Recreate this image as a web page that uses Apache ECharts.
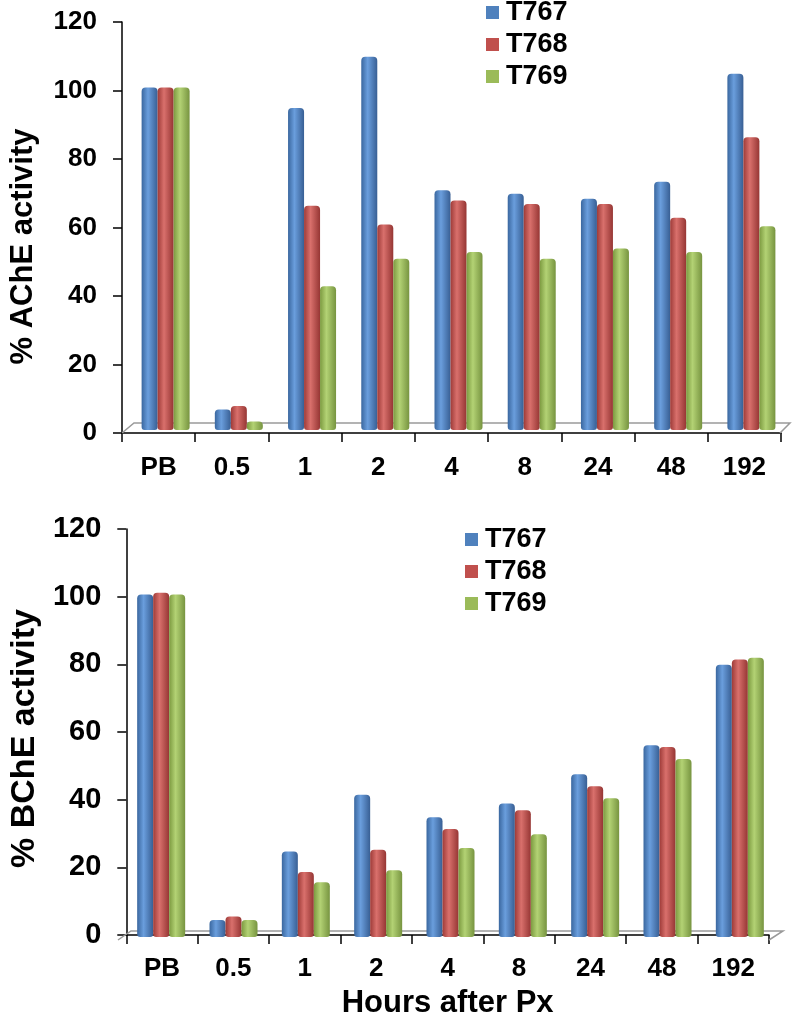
<!DOCTYPE html>
<html>
<head>
<meta charset="utf-8">
<script src="https://cdn.jsdelivr.net/npm/echarts@6/dist/echarts.min.js"></script>
<style>
html,body{margin:0;padding:0;background:#fff;}
#chart{width:796px;height:1020px;}
</style>
</head>
<body>
<div id="chart"></div>
<script>
var categories = ['PB', '0.5', '1', '2', '4', '8', '24', '48', '192'];
var seriesNames = ['T767', 'T768', 'T769'];
var acheT767 = [100, 6, 94, 109, 70, 69, 67.5, 72.5, 104];
var acheT768 = [100, 7, 65.5, 60, 67, 66, 66, 62, 85.5];
var acheT769 = [100, 2.5, 42, 50, 52, 50, 53, 52, 59.5];
var bcheT767 = [100, 5, 25, 41.5, 35, 39, 47.5, 56, 79.5];
var bcheT768 = [100.5, 6, 19, 25.5, 31.5, 37, 44, 55.5, 81];
var bcheT769 = [100, 5, 16, 19.5, 26, 30, 40.5, 52, 81.5];
var yMin = 0, yMax = 120, yStep = 20;
var yTitleTop = '% AChE activity';
var yTitleBottom = '% BChE activity';
var xTitle = 'Hours after Px';

var FONT = "'Liberation Sans', Arial, sans-serif";
var baseColors = ['#4F81BD', '#C0504D', '#9BBB59'];
var grads = [
  ['#3a679f', '#6a9edd', '#385f94'],
  ['#9e3b38', '#d9706c', '#963634'],
  ['#7c9a40', '#b3d274', '#779440']
];
function cyl(i) {
  return new echarts.graphic.LinearGradient(0, 0, 1, 0, [
    {offset: 0, color: grads[i][0]},
    {offset: 0.4, color: grads[i][1]},
    {offset: 1, color: grads[i][2]}
  ]);
}

function axisPair(gridIdx, visible, labelSize, nameText, nameSize, nameGap, namePad, labelMargin, xName) {
  var x = {
    type: 'category', gridIndex: gridIdx, data: categories,
    boundaryGap: true,
    axisLine: {show: visible, lineStyle: {color: '#000', width: 1.5}},
    axisTick: {show: visible, length: 9, lineStyle: {color: '#000', width: 1.5}},
    axisLabel: {show: visible, color: '#000', fontFamily: FONT, fontWeight: 'bold', fontSize: 26, margin: labelMargin},
    splitLine: {show: false}
  };
  if (visible && xName) {
    x.name = xName; x.nameLocation = 'middle'; x.nameGap = 53;
    x.nameTextStyle = {color: '#000', fontFamily: FONT, fontWeight: 'bold', fontSize: 31};
  }
  var y = {
    type: 'value', gridIndex: gridIdx, min: yMin, max: yMax, interval: yStep,
    axisLine: {show: visible, lineStyle: {color: '#000', width: 1.5}},
    axisTick: {show: visible, length: 9, lineStyle: {color: '#000', width: 1.5}},
    axisLabel: {show: visible, color: '#000', fontFamily: FONT, fontWeight: 'bold', fontSize: labelSize, margin: 25},
    splitLine: {show: false}
  };
  if (visible) {
    y.name = nameText; y.nameLocation = 'middle'; y.nameGap = nameGap; y.nameRotate = 90;
    y.nameTextStyle = {color: '#000', fontFamily: FONT, fontWeight: 'bold', fontSize: nameSize, padding: namePad};
  }
  return [x, y];
}

var a0 = axisPair(0, true, 26, yTitleTop, 31, 83, [0, 38, 0, 0], 22, null);
var a1 = axisPair(1, false);
var a2 = axisPair(2, true, 29, yTitleBottom, 34, 78, [0, 13, 0, 0], 21, xTitle);
var a3 = axisPair(3, false);

function barSeries(name, data, idx, axisIdx) {
  return {
    name: name, type: 'bar', xAxisIndex: axisIdx, yAxisIndex: axisIdx,
    data: data, barWidth: 16, barGap: '0%', z: 3,
    itemStyle: {color: cyl(idx), borderRadius: [4, 4, 3, 3]}
  };
}

function legendData() {
  return seriesNames.map(function (n, i) {
    return {name: n, itemStyle: {color: baseColors[i]}};
  });
}

var option = {
  backgroundColor: '#fff',
  animation: false,
  grid: [
    {left: 122, top: 22, width: 659, height: 411},
    {left: 129, top: 19, width: 659, height: 411},
    {left: 118, top: 529, width: 651, height: 411},
    {left: 125, top: 526, width: 651, height: 411}
  ],
  legend: [
    {left: 481, top: -6, orient: 'vertical', icon: 'rect', itemWidth: 13, itemHeight: 13, itemGap: 5,
     textStyle: {color: '#000', fontFamily: FONT, fontWeight: 'bold', fontSize: 27, lineHeight: 26, padding: [0, 0, 0, 2]},
     data: legendData()},
    {left: 460, top: 521, orient: 'vertical', icon: 'rect', itemWidth: 13, itemHeight: 13, itemGap: 5,
     textStyle: {color: '#000', fontFamily: FONT, fontWeight: 'bold', fontSize: 27, lineHeight: 26, padding: [0, 0, 0, 2]},
     data: legendData()}
  ],
  xAxis: [a0[0], a1[0], a2[0], a3[0]],
  yAxis: [a0[1], a1[1], a2[1], a3[1]],
  graphic: [
    {type: 'polyline', z: 1, silent: true,
     shape: {points: [[122, 433], [134, 423], [790, 423], [780, 433]]},
     style: {stroke: '#9a9a9a', lineWidth: 1.5, fill: null}},
    {type: 'polyline', z: 1, silent: true,
     shape: {points: [[118, 940], [131, 931], [783, 931], [769, 940]]},
     style: {stroke: '#9a9a9a', lineWidth: 1.5, fill: null}}
  ],
  series: [
    barSeries('T767', acheT767, 0, 1),
    barSeries('T768', acheT768, 1, 1),
    barSeries('T769', acheT769, 2, 1),
    barSeries('T767', bcheT767, 0, 3),
    barSeries('T768', bcheT768, 1, 3),
    barSeries('T769', bcheT769, 2, 3)
  ]
};

var chart = echarts.init(document.getElementById('chart'), null, {renderer: 'canvas'});
chart.setOption(option);
</script>
</body>
</html>
